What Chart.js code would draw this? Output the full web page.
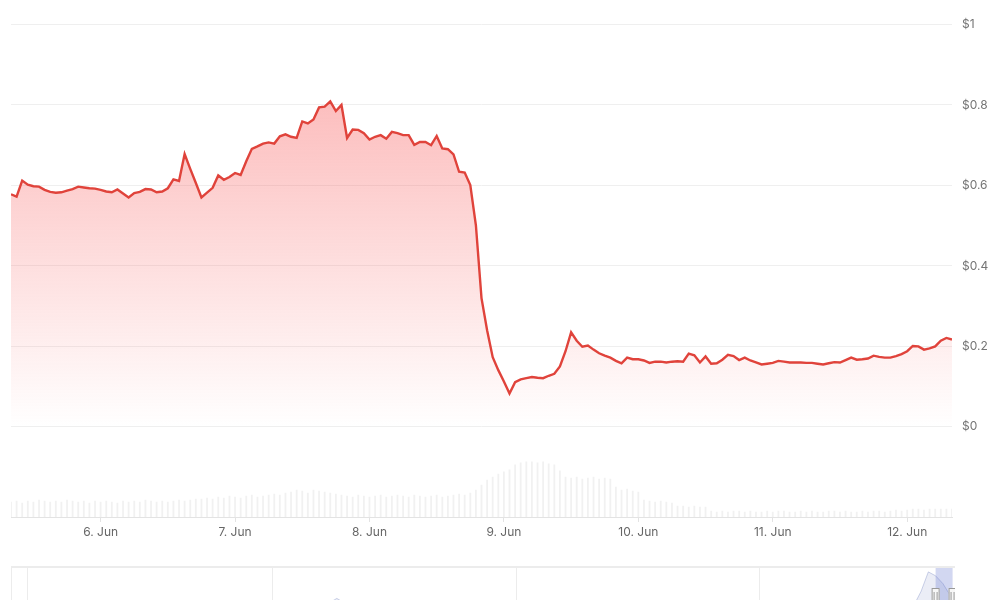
<!DOCTYPE html>
<html>
<head>
<meta charset="utf-8">
<script src="https://cdn.jsdelivr.net/npm/chart.js@4.4.1/dist/chart.umd.min.js"></script>
<style>
html, body { margin: 0; padding: 0; background: #fff; overflow: hidden; }
#wrap { position: relative; width: 1000px; height: 600px; overflow: hidden; }
#main { position: absolute; left: 0; top: 0; width: 1000px; height: 545px; }
#nav { position: absolute; left: 11px; top: 566px; width: 944px; height: 80px;
       border-top: 2px solid #ececec; border-left: 1px solid #ececec; box-sizing: border-box; }
</style>
</head>
<body>
<div id="wrap">
    <div id="main"><canvas id="priceChart"></canvas></div>
    <div id="nav"><canvas id="navChart"></canvas></div>
</div>
<script>
// hours counted from 5 Jun 00:00, one point per hour
const startHour = 8;
const endHour = 176;

const dayTicks = [24, 48, 72, 96, 120, 144, 168];
const dayLabels = ["6. Jun", "7. Jun", "8. Jun", "9. Jun", "10. Jun", "11. Jun", "12. Jun"];

const priceTicks = [0, 0.2, 0.4, 0.6, 0.8, 1];

const prices = [
    0.578, 0.572, 0.612, 0.602, 0.598, 0.597, 0.589, 0.584, 0.582, 0.583,
    0.587, 0.591, 0.597, 0.595, 0.593, 0.592, 0.589, 0.585, 0.583, 0.590,
    0.580, 0.570, 0.581, 0.584, 0.591, 0.590, 0.583, 0.585, 0.593, 0.615,
    0.611, 0.678, 0.641, 0.606, 0.570, 0.582, 0.594, 0.625, 0.614, 0.621,
    0.631, 0.626, 0.660, 0.691, 0.697, 0.704, 0.707, 0.704, 0.722, 0.727,
    0.721, 0.718, 0.759, 0.754, 0.764, 0.794, 0.796, 0.809, 0.785, 0.800,
    0.718, 0.739, 0.738, 0.730, 0.714, 0.721, 0.725, 0.716, 0.733, 0.730,
    0.725, 0.725, 0.701, 0.708, 0.708, 0.700, 0.723, 0.692, 0.690, 0.677,
    0.634, 0.632, 0.601, 0.501, 0.320, 0.240, 0.173, 0.141, 0.113, 0.083,
    0.111, 0.118, 0.121, 0.124, 0.122, 0.121, 0.127, 0.132, 0.150, 0.188,
    0.235, 0.214, 0.199, 0.202, 0.192, 0.183, 0.177, 0.172, 0.164, 0.158,
    0.172, 0.168, 0.168, 0.165, 0.159, 0.162, 0.162, 0.160, 0.162, 0.163,
    0.162, 0.182, 0.178, 0.160, 0.175, 0.157, 0.158, 0.167, 0.179, 0.176,
    0.166, 0.172, 0.165, 0.160, 0.155, 0.157, 0.159, 0.164, 0.162, 0.160,
    0.160, 0.160, 0.159, 0.159, 0.157, 0.155, 0.158, 0.161, 0.160, 0.166,
    0.172, 0.167, 0.168, 0.170, 0.177, 0.174, 0.172, 0.172, 0.176, 0.181,
    0.188, 0.201, 0.200, 0.192, 0.195, 0.200, 0.214, 0.221, 0.217
];

const volumes = [
    15, 16, 14, 16, 15, 17, 16, 15, 16, 15, 17, 16, 15, 16, 14, 16, 15,
    16, 15, 14, 16, 15, 16, 15, 17, 16, 15, 16, 15, 16, 17, 16, 17, 18,
    18, 19, 18, 20, 19, 21, 20, 19, 21, 22, 20, 21, 22, 23, 22, 24,
    25, 27, 26, 24, 27, 26, 25, 24, 23,
    22, 21, 20, 22, 21, 20, 21, 22, 20, 21, 22, 21, 20, 22, 21, 20, 21,
    22, 20, 21, 22, 23, 22, 24, 27,
    32, 37, 40, 43, 45, 47,
    52, 54, 55, 55, 54, 55, 53, 52, 46,
    40, 39, 40, 38, 39, 40, 38, 39, 38,
    30, 27, 28, 26, 25,
    17, 16, 15, 16, 15, 14,
    11, 11, 10, 11, 10, 10,
    6, 5, 6, 5, 6, 6, 5, 6, 5, 5, 6, 5, 6, 6, 5, 5, 6, 5,
    6, 5, 5, 6, 6, 5, 6, 5, 5, 6, 5, 6, 6, 5, 6, 7, 6, 7,
    8, 8, 7, 8, 8, 8, 8, 8
];

// navigator (days over the whole history)
const navMaxDay = 389;
const navGridDays = [6.2, 107.3, 208.3, 308.5];
const navDays = [0, 25, 50, 75, 100, 120, 128, 134, 140, 150, 175, 200, 225, 250, 275, 300, 325, 350, 365, 372, 375, 378, 381, 384, 389];
const navValues = [0.35, 0.33, 0.36, 0.34, 0.38, 0.42, 0.5, 0.61, 0.5, 0.42, 0.36, 0.33, 0.31, 0.33, 0.3, 0.29, 0.28, 0.3, 0.38, 0.52, 0.7, 0.95, 0.9, 0.8, 0.55];
const navSelStart = 381;
const navSelEnd = 388;

Chart.defaults.font.family = "Inter, 'Noto Sans', sans-serif";
Chart.defaults.font.size = 12;

function areaGradient(context) {
    const chart = context.chart;
    if (!chart.chartArea) return null;
    const y = chart.scales.y;
    const g = chart.ctx.createLinearGradient(0, y.getPixelForValue(0.81), 0, y.getPixelForValue(0));
    g.addColorStop(0, "rgba(248,92,92,0.40)");
    g.addColorStop(1, "rgba(248,92,92,0)");
    return g;
}

function buildPriceChart() {
    const canvas = document.getElementById("priceChart");
    if (!canvas) return;
    const ctx = canvas.getContext("2d");
    new Chart(ctx, {
        data: {
            datasets: [{
                type: "line",
                label: "Price",
                data: prices.map((p, i) => ({ x: startHour + i, y: p })),
                yAxisID: "y",
                borderColor: "#e0433b",
                borderWidth: 2.4,
                pointRadius: 0,
                tension: 0,
                fill: { value: 0 },
                backgroundColor: areaGradient,
                order: 0
            }, {
                type: "bar",
                label: "Volume",
                data: volumes.map((v, i) => ({ x: startHour + i, y: v })),
                yAxisID: "yv",
                backgroundColor: "rgba(0,0,0,0.055)",
                barThickness: 1.2,
                order: 1
            }]
        },
        options: {
            responsive: true,
            maintainAspectRatio: false,
            animation: false,
            layout: { padding: { left: 11, right: 0, top: 24.5, bottom: 0 } },
            plugins: { legend: { display: false }, tooltip: { enabled: false } },
            scales: {
                x: {
                    type: "linear",
                    min: startHour,
                    max: endHour,
                    offset: false,
                    afterBuildTicks: (s) => { s.ticks = dayTicks.map(v => ({ value: v })); },
                    afterFit: (s) => { s.height = 28; },
                    grid: { offset: false, drawOnChartArea: false, drawTicks: true, tickLength: 5, color: "#e3e3e3" },
                    border: { display: true, color: "#e3e3e3" },
                    ticks: {
                        padding: 3,
                        color: "#666",
                        maxRotation: 0,
                        autoSkip: false,
                        callback: (v) => dayLabels[dayTicks.indexOf(v)]
                    }
                },
                y: {
                    position: "right",
                    min: -0.224, // room under $0 for the volume bars
                    max: 1,
                    afterBuildTicks: (s) => { s.ticks = priceTicks.map(v => ({ value: v })); },
                    afterFit: (s) => { s.width = 48; },
                    grid: { color: "#efefef", drawTicks: false },
                    border: { display: false },
                    ticks: { padding: 10, color: "#757575", callback: (v) => "$" + v }
                },
                yv: {
                    display: false,
                    min: 0,
                    max: 492
                }
            }
        }
    });
}

const navMask = {
    id: "navMask",
    afterDatasetsDraw(chart) {
        const { ctx, chartArea, scales } = chart;
        const x1 = scales.x.getPixelForValue(navSelStart);
        const x2 = scales.x.getPixelForValue(navSelEnd);
        ctx.save();
        ctx.fillStyle = "rgba(95,110,205,0.28)";
        ctx.fillRect(x1, chartArea.top, x2 - x1, chartArea.bottom - chartArea.top);
        [x1, x2].forEach((x) => {
            const top = chartArea.top + 20;
            ctx.fillStyle = "#f7f7f7";
            ctx.strokeStyle = "#999";
            ctx.lineWidth = 1;
            ctx.fillRect(x - 4, top, 8, 15);
            ctx.strokeRect(x - 3.5, top + 0.5, 7, 14);
            ctx.beginPath();
            ctx.moveTo(x - 1.5, top + 4);
            ctx.lineTo(x - 1.5, top + 12);
            ctx.moveTo(x + 1.5, top + 4);
            ctx.lineTo(x + 1.5, top + 12);
            ctx.stroke();
        });
        ctx.restore();
    }
};

function buildNavChart() {
    const canvas = document.getElementById("navChart");
    if (!canvas) return;
    const ctx = canvas.getContext("2d");
    new Chart(ctx, {
        type: "line",
        data: {
            datasets: [{
                data: navDays.map((d, i) => ({ x: d, y: navValues[i] })),
                borderColor: "rgba(110,125,190,0.35)",
                backgroundColor: "rgba(110,125,190,0.14)",
                borderWidth: 1,
                fill: "origin",
                pointRadius: 0,
                tension: 0
            }]
        },
        options: {
            responsive: true,
            maintainAspectRatio: false,
            animation: false,
            layout: { padding: 0 },
            plugins: { legend: { display: false }, tooltip: { enabled: false } },
            scales: {
                x: {
                    type: "linear",
                    min: 0,
                    max: navMaxDay,
                    afterBuildTicks: (s) => { s.ticks = navGridDays.map(v => ({ value: v })); },
                    afterFit: (s) => { s.height = 0; },
                    grid: { color: "#ececec", drawTicks: false },
                    border: { display: false },
                    ticks: { display: false }
                },
                y: { display: false, min: 0, max: 1 }
            }
        },
        plugins: [navMask]
    });
}

document.addEventListener("DOMContentLoaded", () => {
    buildPriceChart();
    buildNavChart();
});
</script>
</body>
</html>
